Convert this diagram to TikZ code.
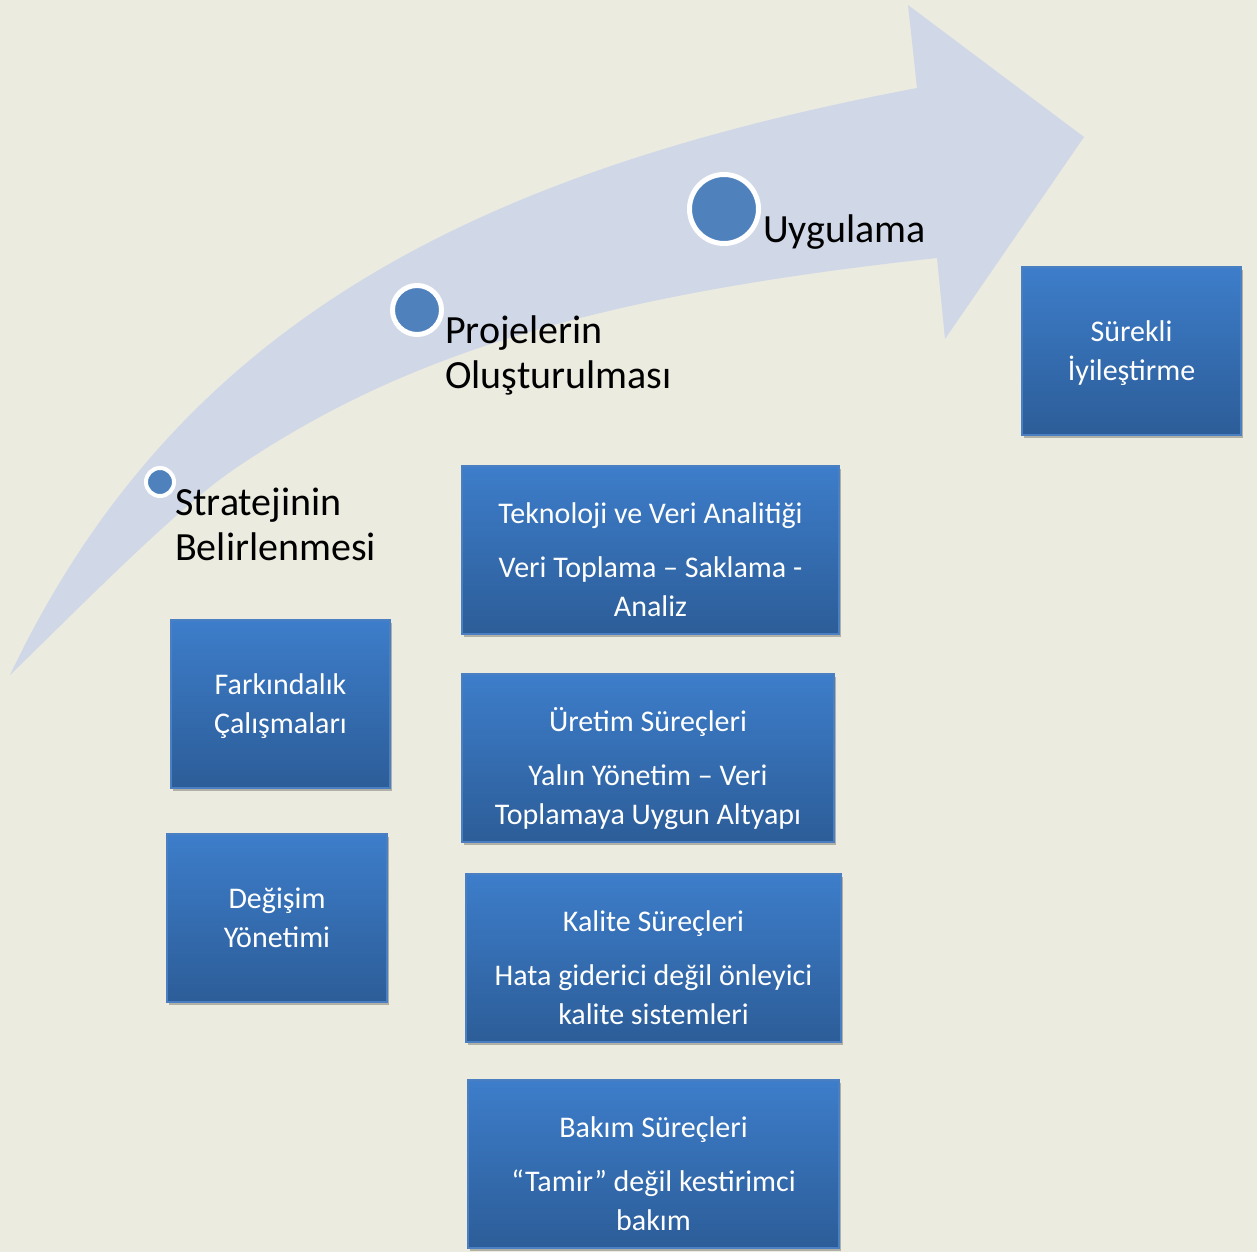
\documentclass[tikz,border=0pt]{standalone}
\usepackage{fontspec}
\setmainfont{Carlito}
\usetikzlibrary{shadows,calc}
\definecolor{bgc}{HTML}{ECEBE0}
\definecolor{bandc}{HTML}{D0D8E8}
\definecolor{dotc}{HTML}{4F81BD}
\definecolor{boxtop}{HTML}{3D7DCA}
\definecolor{boxbot}{HTML}{2C5D98}
\definecolor{boxline}{HTML}{4A80C2}
\tikzset{
  bluebox/.style={rectangle, draw=boxline, line width=1.2pt, top color=boxtop, bottom color=boxbot,
    minimum height=168pt, inner sep=0pt,
    drop shadow={shadow xshift=2pt, shadow yshift=-3pt, opacity=0.25, fill=black}},
  boxtxt/.style={text=white, align=center, inner sep=0pt, font=\fontsize{30}{39}\selectfont},
  headtxt/.style={text=black, align=left, inner sep=0pt, anchor=north west, font=\fontsize{40}{45}\selectfont},
  dot/.style={circle, fill=dotc, draw=white, inner sep=0pt}
}
\begin{document}
\begin{tikzpicture}[x=1pt,y=-1pt]
\fill[bgc] (0,0) rectangle (1257,1252);
\useasboundingbox (0,0) rectangle (1257,1252);
% curved arrow band
\fill[bandc] (10,675) .. controls (175,328) and (467,173) .. (917,88)
  -- (908,5) -- (1084,137) -- (945,339) -- (937,258)
  .. controls (597,295) and (403,354) .. (233,470)
  .. controls (173,511) and (60,627) .. (10,675) -- cycle;
% dots
\node[dot, minimum size=28pt, line width=4pt] (d1) at (160,482) {};
\node[dot, minimum size=49pt, line width=5pt] (d2) at (417,310) {};
\node[dot, minimum size=69pt, line width=5pt] (d3) at (724,209) {};
% headings
\node[headtxt] (h1) at (175,483.5) {\strut Stratejinin\\\strut Belirlenmesi};
\node[headtxt] (h2) at (445,311.5) {\strut Projelerin\\\strut Oluşturulması};
\node[headtxt] (h3) at (763,210.5) {\strut Uygulama};
% boxes
\node[bluebox, minimum width=219pt] (sur) at (1131.5,351) {};
\node[bluebox, minimum width=377pt] (tek) at (650.5,550) {};
\node[bluebox, minimum width=219pt] (fark) at (280.5,704) {};
\node[bluebox, minimum width=372pt] (ure) at (648,758) {};
\node[bluebox, minimum width=220pt] (deg) at (277,918) {};
\node[bluebox, minimum width=375pt] (kal) at (653.5,958) {};
\node[bluebox, minimum width=371pt] (bak) at (653.5,1164) {};
% box texts
\node[boxtxt] (surt) at ($(sur.center)+(0,2.5)$) {\strut Sürekli\\\strut İyileştirme};
\node[boxtxt] (farkt) at ($(fark.center)+(0,2.5)$) {\strut Farkındalık\\\strut Çalışmaları};
\node[boxtxt] (degt) at ($(deg.center)+(0,2)$) {\strut Değişim\\\strut Yönetimi};
\node[boxtxt] (tekt) at ($(tek.center)+(0,12)$) {\strut Teknoloji ve Veri Analitiği\\[15pt]\strut Veri Toplama – Saklama -\\\strut Analiz};
\node[boxtxt] (uret) at ($(ure.center)+(0,12)$) {\strut Üretim Süreçleri\\[15pt]\strut Yalın Yönetim – Veri\\\strut Toplamaya Uygun Altyapı};
\node[boxtxt] (kalt) at ($(kal.center)+(0,12)$) {\strut Kalite Süreçleri\\[15pt]\strut Hata giderici değil önleyici\\\strut kalite sistemleri};
\node[boxtxt] (bakt) at ($(bak.center)+(0,12)$) {\strut Bakım Süreçleri\\[15pt]\strut “Tamir” değil kestirimci\\\strut bakım};
\end{tikzpicture}
\end{document}
